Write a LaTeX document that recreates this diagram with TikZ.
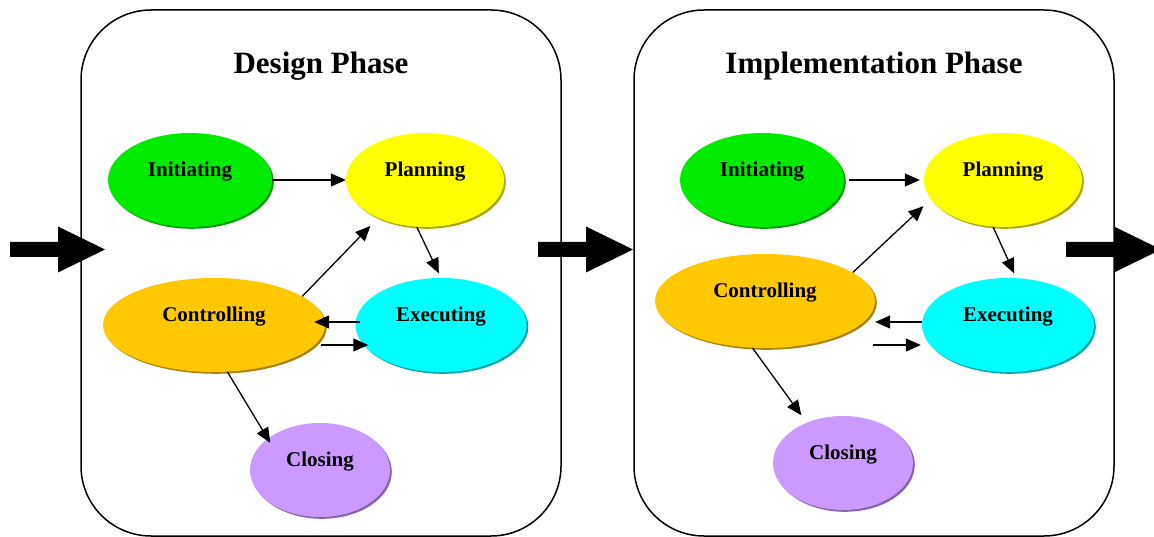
\documentclass[tikz,border=0pt]{standalone}
\usepackage{fontspec}
\setmainfont{Liberation Serif}
\usetikzlibrary{arrows.meta,shapes.geometric}
\definecolor{initgreen}{RGB}{0,235,0}
\definecolor{planyellow}{RGB}{255,255,0}
\definecolor{ctrlorange}{RGB}{255,200,0}
\definecolor{execcyan}{RGB}{0,255,255}
\definecolor{clospurple}{RGB}{204,153,255}
\def\blockarrow(#1){\fill (#1) ++(0,-7.5) -- ++(48,0) -- ++(0,-15.5) -- ++(47,23) -- ++(-47,23) -- ++(0,-15.5) -- ++(-48,0) -- cycle;}

\begin{document}
\begin{tikzpicture}[x=1pt,y=-1pt,
	flow/.style={line width=1.3pt,-{Triangle[length=15pt,width=13pt]}},
	panel/.style={line width=1.5pt,rounded corners=70pt},
	title/.style={font=\fontsize{31}{31}\selectfont\bfseries},
	stage/.style 2 args={ellipse,inner sep=0pt,minimum height=94pt,minimum width=#2,fill=#1,
		text height=0pt,text depth=7pt,font=\fontsize{21}{21}\selectfont\bfseries,
		preaction={fill=#1!65!black,transform canvas={shift={(1.8pt,-1.8pt)}}}}]
			%%%%% START %%%%%
			\useasboundingbox (0,0) rectangle (1154,537);
			
			\draw[panel] (81,10) rectangle (561,536);
			\draw[panel] (634,10) rectangle (1114,536);
			
			\node[title] (dtitle) at (321,66) {Design Phase};
			\node[title] (ititle) at (874,66) {Implementation Phase};
			
			% design phase
			\node[stage={initgreen}{164pt}] (init1) at (190,180) {Initiating};
			\node[stage={planyellow}{158pt}] (plan1) at (425,180) {Planning};
			\node[stage={ctrlorange}{222pt}] (ctrl1) at (214,325) {Controlling};
			\node[stage={execcyan}{171pt}] (exec1) at (441,325) {Executing};
			\node[stage={clospurple}{140pt}] (clos1) at (320,470) {Closing};
			
			\draw[flow] (init1.east) -- (plan1.west);
			\draw[flow, shorten >=5pt] (plan1.260) -- (exec1.north);
			\draw[flow, shorten >=11pt] (ctrl1.18) -- (plan1.219);
			\draw[flow] ([xshift=5pt,yshift=3pt]exec1.west) -- ([xshift=-11pt,yshift=3pt]ctrl1.east);
			\draw[flow] ([xshift=-4pt,yshift=-20pt]ctrl1.east) -- ([xshift=13pt,yshift=-20pt]exec1.west);
			\draw[flow, shorten >=-5pt] (ctrl1.-74) -- (clos1.149);
			
			% implementation phase
			\node[stage={initgreen}{164pt}] (init2) at (762,180) {Initiating};
			\node[stage={planyellow}{158pt}] (plan2) at (1003,180) {Planning};
			\node[stage={ctrlorange}{220pt}] (ctrl2) at (765,301) {Controlling};
			\node[stage={execcyan}{172pt}] (exec2) at (1008,325) {Executing};
			\node[stage={clospurple}{140pt}] (clos2) at (843,463) {Closing};
			
			\draw[flow, shorten <=5pt, shorten >=4pt] (init2.east) -- (plan2.west);
			\draw[flow, shorten >=5pt] (plan2.258) -- (exec2.80);
			\draw[flow, shorten >=10pt] (ctrl2.18) -- (plan2.195);
			\draw[flow] ([yshift=3pt]exec2.west) -- ([yshift=-21pt]ctrl2.east);
			\draw[flow] ([xshift=-2pt,yshift=-44pt]ctrl2.east) -- ([xshift=-1pt,yshift=-20pt]exec2.west);
			\draw[flow, shorten >=9pt] (ctrl2.255) -- (clos2.132);
			
			\blockarrow(10,249.5)
			\blockarrow(538,249.5)
			\blockarrow(1066,249.5)
			%%%%% END %%%%%
\end{tikzpicture}
\end{document}
